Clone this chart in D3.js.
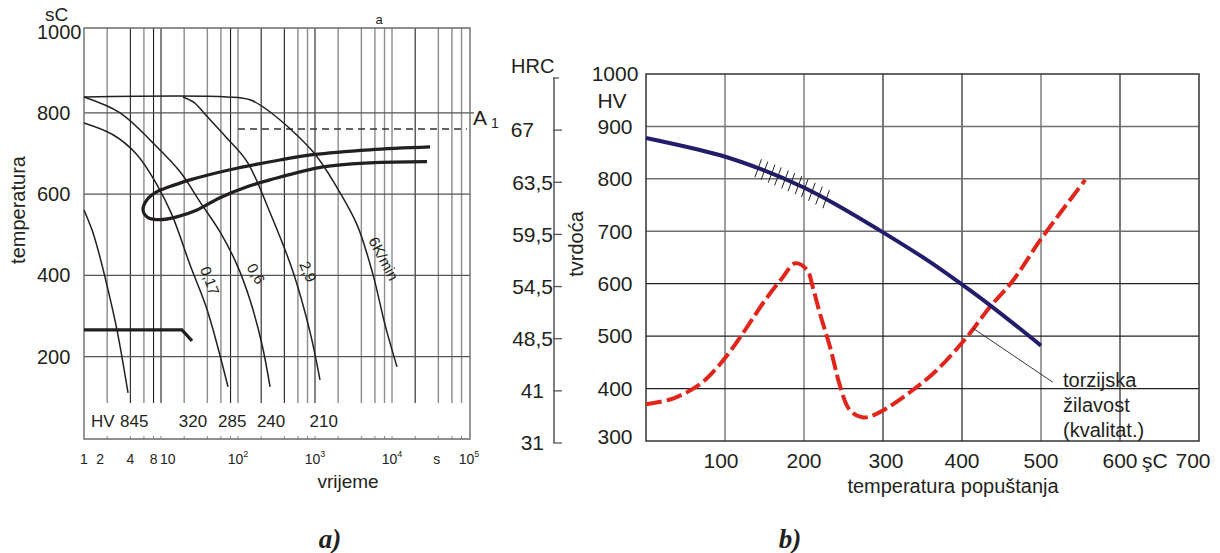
<!DOCTYPE html>
<html>
<head>
<meta charset="utf-8">
<script src="https://cdn.jsdelivr.net/npm/d3@7"></script>
<style>
    body { margin: 0; background: #fff; }
    svg text { font-family: "Liberation Sans", Arial, sans-serif; fill: #231f20; }
    .naslov { font-family: "Liberation Serif", "Times New Roman", serif; font-weight: bold; font-style: italic; }
</style>
</head>
<body>
<svg id="chart" width="1220" height="553"></svg>
<script>
// ---- a) ZTU dijagram: vrijeme (s) / temperatura (°C) ----
var gridTimes = [2, 4, 6, 8, 10, 20, 40, 60, 80, 100, 200, 400, 600, 800, 1000,
    2000, 4000, 6000, 8000, 10000, 20000, 40000, 60000, 80000];
var darkTimes = [4, 8, 10, 80, 200, 400, 1000, 20000];
var tempGridA = [200, 400, 600, 800];
var tempLabelsA = [200, 400, 600, 800, 1000];
var timeTicks = [1, 2, 4, 8, 10];
var timePowers = [2, 3, 4, 5];

// krivulje hlađenja [t, T]
var curve845 = [[1, 561], [1.27, 512], [1.52, 463], [2.05, 365], [2.68, 266], [3.73, 111]];
var curve017 = [[1, 775], [2.38, 746], [4.88, 697], [8.87, 623], [13.9, 549], [23.8, 426], [39.6, 316], [74.1, 126]];
var curve06 = [[1, 839], [2.94, 800], [7.87, 726], [17.7, 655], [32.1, 581], [58.4, 507], [97.1, 426], [143, 340], [205, 230], [261, 126]];
var curve29 = [[19.3, 839], [27, 825], [40, 790], [70, 740], [131, 680], [261, 554], [518, 409], [861, 261], [1161, 143]];
var curve6K = [[1, 839], [72, 839], [143, 832], [261, 802], [942, 704], [1932, 616], [3510, 525], [5665, 402], [8110, 279], [11610, 175]];
var perlitLoop = [[31200, 716], [5176, 709], [942, 697], [351, 684], [78.7, 660], [23.8, 635], [12.0, 616], [8.87, 606],
    [6.58, 586], [5.84, 561], [6.78, 542], [9.70, 537], [16.1, 544], [29.4, 561], [58.4, 591], [131, 618],
    [261, 635], [1271, 667], [5176, 677], [28500, 680]];
var msLine = [[1, 266], [18.7, 266], [25.3, 239]];
var a1Temp = 800;
var dashedLine = [[100, 760], [94000, 760]];
var hvValues = ["845", "320", "285", "240", "210"];
var hvTimes = [4.5, 26, 84, 269, 1300];
var curveLabels = [
    { text: "0,17", t: 43, T: 387, angle: 69 },
    { text: "0,6", t: 171, T: 404, angle: 60 },
    { text: "2,9", t: 811, T: 409, angle: 66 },
    { text: "6K/min", t: 7780, T: 441, angle: 62 }
];

// ---- b) tvrdoća i žilavost nakon popuštanja ----
var tempTicksB = [100, 200, 300, 400, 500, 600, 700];
var darkTempsB = [300, 400, 600];
var hvTicks = [300, 400, 500, 600, 700, 800, 900, 1000];
var darkHvB = [600, 500, 400];
var hrcLabels = ["67", "63,5", "59,5", "54,5", "48,5", "41", "31"];
var hrcAtHv = [900, 800, 700, 600, 500, 400, 300];
var tvrdoca = [[0, 878], [94, 845], [148, 817], [199, 784], [237, 754], [300, 698], [356, 645], [406, 592], [439, 555], [500, 482]];
var zilavost = [[0, 370], [34, 381], [68, 408], [90, 440], [110, 478], [130, 522], [150, 567], [172, 610], [189, 639], [204, 626],
    [211, 594], [220, 544], [233, 479], [246, 403], [258, 359], [275, 345], [296, 355], [334, 393], [368, 435],
    [406, 498], [435, 555], [465, 607], [499, 683], [556, 798]];
var hatchTemps = [142, 150, 159, 167, 176, 184, 193, 201, 210, 219, 228];
var leader = [[414, 515], [515, 412]];
var noteLines = ["torzijska", "žilavost", "(kvalitat.)"];

var svg = d3.select("#chart");
var ink = "#231f20";

// ================= a) =================
var xA = d3.scaleLog().domain([1, 1e5]).range([84, 469]);
var yA = d3.scaleLinear().domain([0, 1000]).range([438, 31.5]);
var topA = 28, gridEndA = 403, bottomA = 439, leftA = 84, rightA = 470;

var ga = svg.append("g");

ga.selectAll(".vgrid")
    .data(gridTimes)
    .join("line")
    .attr("x1", d => xA(d)).attr("x2", d => xA(d))
    .attr("y1", topA).attr("y2", gridEndA)
    .attr("stroke", d => darkTimes.indexOf(d) >= 0 ? ink : "#8c8c8c")
    .attr("stroke-width", d => darkTimes.indexOf(d) >= 0 ? 1.1 : 1.4);

ga.selectAll(".btick")
    .data(gridTimes)
    .join("line")
    .attr("x1", d => xA(d)).attr("x2", d => xA(d))
    .attr("y1", bottomA - 3).attr("y2", bottomA)
    .attr("stroke", "#8c8c8c");

ga.selectAll(".hgrid")
    .data(tempGridA)
    .join("line")
    .attr("x1", leftA)
    .attr("x2", d => d == a1Temp ? rightA + 4 : rightA)
    .attr("y1", d => yA(d)).attr("y2", d => yA(d))
    .attr("stroke", "#555")
    .attr("stroke-width", 1.3);

// okvir
ga.append("path")
    .attr("d", "M" + leftA + "," + topA + "H" + rightA + "V" + bottomA + "H" + leftA + "Z")
    .attr("fill", "none")
    .attr("stroke", "#6b6b6b")
    .attr("stroke-width", 1.4);

ga.append("line")
    .attr("x1", xA(dashedLine[0][0])).attr("x2", xA(dashedLine[1][0]))
    .attr("y1", yA(dashedLine[0][1])).attr("y2", yA(dashedLine[1][1]))
    .attr("stroke", "#333")
    .attr("stroke-width", 1.5)
    .attr("stroke-dasharray", "7,5");

var lineA = d3.line()
    .x(d => xA(d[0]))
    .y(d => yA(d[1]))
    .curve(d3.curveCatmullRom.alpha(0.5));

[curve845, curve017, curve06, curve29, curve6K].forEach(function (c) {
    ga.append("path")
        .attr("d", lineA(c))
        .attr("fill", "none")
        .attr("stroke", ink)
        .attr("stroke-width", 1.5);
});

ga.append("path")
    .attr("d", lineA(perlitLoop))
    .attr("fill", "none")
    .attr("stroke", ink)
    .attr("stroke-width", 3.2);

ga.append("path")
    .attr("d", d3.line().x(d => xA(d[0])).y(d => yA(d[1]))(msLine))
    .attr("fill", "none")
    .attr("stroke", ink)
    .attr("stroke-width", 3.2);

// oznake osi a)
ga.selectAll(".ylab")
    .data(tempLabelsA)
    .join("text")
    .attr("x", 37)
    .attr("y", d => yA(d))
    .attr("dy", "0.35em")
    .style("font-size", "20px")
    .text(d => d);

ga.append("text").attr("x", 45).attr("y", 21).style("font-size", "19px").text("sC");
ga.append("text").attr("x", 379).attr("y", 24).attr("text-anchor", "middle").style("font-size", "13px").text("a");

ga.append("text")
    .attr("transform", "translate(25,210) rotate(-90)")
    .attr("text-anchor", "middle")
    .style("font-size", "20px")
    .text("temperatura");

ga.append("text").attr("x", rightA + 3).attr("y", yA(a1Temp) + 12).style("font-size", "21px").text("A");
ga.append("text").attr("x", rightA + 21).attr("y", yA(a1Temp) + 15).style("font-size", "14px").text("1");

ga.selectAll(".tlab")
    .data(timeTicks)
    .join("text")
    .attr("x", d => xA(d) + (d == 2 ? -7 : 0))
    .attr("y", 464)
    .attr("text-anchor", d => d == 10 ? "start" : "middle")
    .attr("dx", d => d == 10 ? -1 : 0)
    .style("font-size", "14px")
    .text(d => d);

var powLab = ga.selectAll(".plab")
    .data(timePowers)
    .join("text")
    .attr("x", d => xA(Math.pow(10, d)))
    .attr("y", 464)
    .attr("text-anchor", "middle")
    .style("font-size", "14px");
powLab.append("tspan").text("10");
powLab.append("tspan").attr("dy", -7).style("font-size", "9px").text(d => d);

ga.append("text").attr("x", xA(38000)).attr("y", 464).attr("text-anchor", "middle").style("font-size", "14px").text("s");
ga.append("text").attr("x", 348).attr("y", 488).attr("text-anchor", "middle").style("font-size", "19px").text("vrijeme");

ga.append("text").attr("x", 91).attr("y", 427).style("font-size", "17px").text("HV");
ga.selectAll(".hvlab")
    .data(hvValues)
    .join("text")
    .attr("x", (d, i) => xA(hvTimes[i]))
    .attr("y", 427)
    .attr("text-anchor", "middle")
    .style("font-size", "17px")
    .text(d => d);

ga.selectAll(".clab")
    .data(curveLabels)
    .join("text")
    .attr("transform", d => "translate(" + xA(d.t) + "," + yA(d.T) + ") rotate(" + d.angle + ")")
    .attr("text-anchor", "middle")
    .attr("dy", "0.35em")
    .style("font-size", "15px")
    .text(d => d.text);

ga.append("text").attr("class", "naslov").attr("x", 330).attr("y", 548)
    .attr("text-anchor", "middle").style("font-size", "27px").text("a)");

// ================= b) =================
var xB = d3.scaleLinear().domain([0, 700]).range([646, 1199]);
var yB = d3.scaleLinear().domain([300, 1000]).range([441, 74]);
var yHrc = d3.scaleLinear().domain([300, 1000]).range([443, 78]);
var axisX = 554;

var gb = svg.append("g");

gb.selectAll(".vgridb")
    .data(tempTicksB.slice(0, -1))
    .join("line")
    .attr("x1", d => xB(d)).attr("x2", d => xB(d))
    .attr("y1", yB(1000)).attr("y2", yB(300))
    .attr("stroke", d => darkTempsB.indexOf(d) >= 0 ? ink : "#7d7d7d")
    .attr("stroke-width", d => darkTempsB.indexOf(d) >= 0 ? 1.2 : 1.5);

gb.selectAll(".hgridb")
    .data(hvTicks.slice(1, -1))
    .join("line")
    .attr("x1", xB(0)).attr("x2", xB(700))
    .attr("y1", d => yB(d)).attr("y2", d => yB(d))
    .attr("stroke", d => darkHvB.indexOf(d) >= 0 ? ink : "#6f6f6f")
    .attr("stroke-width", d => darkHvB.indexOf(d) >= 0 ? 1.2 : 1.5);

gb.append("rect")
    .attr("x", xB(0)).attr("y", yB(1000))
    .attr("width", xB(700) - xB(0)).attr("height", yB(300) - yB(1000))
    .attr("fill", "none")
    .attr("stroke", "#333")
    .attr("stroke-width", 1.5);

var lineB = d3.line()
    .x(d => xB(d[0]))
    .y(d => yB(d[1]))
    .curve(d3.curveCatmullRom.alpha(0.5));

gb.append("path")
    .attr("d", lineB(zilavost))
    .attr("fill", "none")
    .attr("stroke", "#e1251b")
    .attr("stroke-width", 4)
    .attr("stroke-dasharray", "16,5");

gb.append("path")
    .attr("d", lineB(tvrdoca))
    .attr("fill", "none")
    .attr("stroke", "#221d6b")
    .attr("stroke-width", 4);

// šrafura na krivulji tvrdoće
var hvAt = d3.scaleLinear().domain(tvrdoca.map(d => d[0])).range(tvrdoca.map(d => d[1]));
gb.selectAll(".hatch")
    .data(hatchTemps)
    .join("line")
    .attr("x1", d => xB(d) - 3.3).attr("y1", d => yB(hvAt(d)) + 9)
    .attr("x2", d => xB(d) + 3.3).attr("y2", d => yB(hvAt(d)) - 9)
    .attr("stroke", ink)
    .attr("stroke-width", 1);

gb.append("line")
    .attr("x1", xB(leader[0][0])).attr("y1", yB(leader[0][1]))
    .attr("x2", xB(leader[1][0])).attr("y2", yB(leader[1][1]))
    .attr("stroke", ink)
    .attr("stroke-width", 0.9);

gb.selectAll(".note")
    .data(noteLines)
    .join("text")
    .attr("x", 1063)
    .attr("y", (d, i) => 387 + i * 25)
    .style("font-size", "20px")
    .text(d => d);

// HV os
gb.selectAll(".hvlabb")
    .data(hvTicks)
    .join("text")
    .attr("x", 615)
    .attr("y", d => yB(d) + (d == 300 ? -4 : 0))
    .attr("dy", "0.35em")
    .attr("text-anchor", "middle")
    .style("font-size", "21px")
    .text(d => d);
gb.append("text").attr("x", 612).attr("y", 108).attr("text-anchor", "middle").style("font-size", "21px").text("HV");

// HRC os
gb.append("line")
    .attr("x1", axisX).attr("x2", axisX)
    .attr("y1", yHrc(1000)).attr("y2", yHrc(300))
    .attr("stroke", "#555")
    .attr("stroke-width", 1.5);
gb.selectAll(".hrctick")
    .data(hrcAtHv.concat([1000]))
    .join("line")
    .attr("x1", axisX - 1).attr("x2", d => d == 1000 ? axisX + 5 : axisX + 8)
    .attr("y1", d => yHrc(d)).attr("y2", d => yHrc(d))
    .attr("stroke", "#555")
    .attr("stroke-width", 1.3);
gb.selectAll(".hrclab")
    .data(hrcLabels)
    .join("text")
    .attr("x", d => d.indexOf(",") >= 0 ? 553 : (d == "67" ? 534 : 544))
    .attr("y", (d, i) => yHrc(hrcAtHv[i]))
    .attr("dy", "0.35em")
    .attr("text-anchor", "end")
    .style("font-size", "21px")
    .text(d => d);
gb.append("text").attr("x", 511).attr("y", 73).style("font-size", "20px").text("HRC");

gb.append("text")
    .attr("transform", "translate(583,244) rotate(-90)")
    .attr("text-anchor", "middle")
    .style("font-size", "20px")
    .text("tvrdoća");

// x os b)
gb.selectAll(".xlabb")
    .data(tempTicksB)
    .join("text")
    .attr("x", d => xB(d) + (d == 700 ? -6 : (d == 100 ? -4 : (d == 300 ? 3 : 0))))
    .attr("y", 468)
    .attr("text-anchor", "middle")
    .style("font-size", "21px")
    .text(d => d);
gb.append("text").attr("x", 1142).attr("y", 468).style("font-size", "21px").text("şC");
gb.append("text").attr("x", 953).attr("y", 493).attr("text-anchor", "middle").style("font-size", "20px").text("temperatura popuštanja");

gb.append("text").attr("class", "naslov").attr("x", 790).attr("y", 548)
    .attr("text-anchor", "middle").style("font-size", "27px").text("b)");
</script>
</body>
</html>
